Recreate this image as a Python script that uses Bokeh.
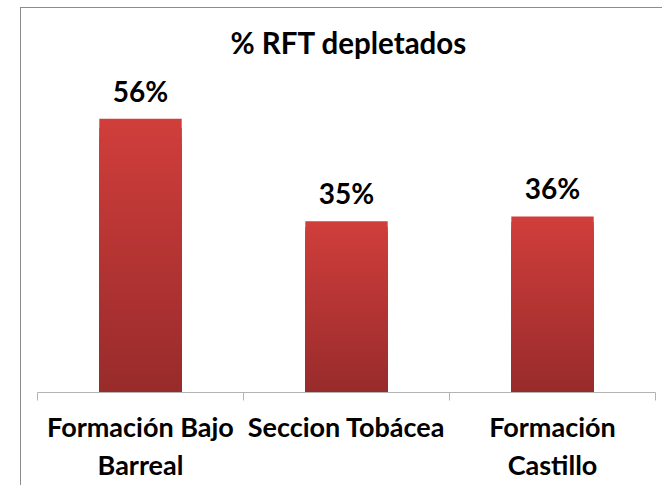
from bokeh.plotting import figure
from bokeh.models import Range1d, FixedTicker
from bokeh.core.properties import value
from bokeh.embed import file_html
from bokeh.resources import INLINE

# ---- data ----
categories = ["Formación Bajo\nBarreal", "Seccion Tobácea", "Formación\nCastillo"]
values = [56, 35, 36]
title_text = "% RFT depletados"

x = list(range(len(categories)))
value_labels = [f"{v}%" for v in values]
boundaries = [i - 0.5 for i in x] + [x[-1] + 0.5]

FONT = "Lato"

p = figure(width=642, height=478, output_backend="svg", toolbar_location=None,
           x_range=Range1d(-0.5777, 2.5388), y_range=Range1d(0, 66.26),
           y_axis_location=None,
           min_border_left=0, min_border_right=0,
           min_border_top=60, min_border_bottom=94,
           title=title_text)

# chart-area border: left and top edges
p.styles = {"margin-left": "20px", "margin-top": "7px",
            "border-left": "1px solid #8c8c8c",
            "border-top": "1px solid #8c8c8c"}

p.background_fill_color = "white"
p.border_fill_color = "white"
p.outline_line_color = None
p.grid.visible = False

p.title.align = "left"
p.title.offset = 209
p.title.text_font = FONT
p.title.text_font_size = "29.5px"
p.title.text_font_style = "bold"
p.title.text_color = "black"
p.title.standoff = 18

# bars with vertical gradient (light top -> dark bottom)
top_rgb = (208, 62, 59)
bot_rgb = (152, 43, 43)
N = 30
for k in range(N, 0, -1):
    t = (k - 0.5) / N
    rgb = tuple(int(round(b + (a - b) * t)) for a, b in zip(top_rgb, bot_rgb))
    col = "#%02x%02x%02x" % rgb
    p.vbar(x=x, top=[v * k / N for v in values], bottom=0, width=0.4,
           fill_color=col, line_color=None)

p.text(x=x, y=values, text=value_labels, text_font=value(FONT),
       text_font_size="28px", text_font_style="bold", text_color="black",
       text_align="center", text_baseline="alphabetic", y_offset=-28)

xa = p.xaxis[0]
xa.ticker = FixedTicker(ticks=x, minor_ticks=boundaries)
xa.major_label_overrides = {i: c for i, c in zip(x, categories)}
xa.bounds = (boundaries[0], boundaries[-1])
xa.axis_line_color = "#b3b3b3"
xa.major_tick_line_color = None
xa.major_tick_out = 0
xa.major_tick_in = 0
xa.minor_tick_line_color = "#b3b3b3"
xa.minor_tick_out = 8
xa.minor_tick_in = 0
xa.major_label_text_font = FONT
xa.major_label_text_font_size = "27px"
xa.major_label_text_font_style = "bold"
xa.major_label_text_color = "black"
xa.major_label_text_line_height = 1.18
xa.major_label_standoff = 9

open("out.html", "w").write(file_html(p, INLINE))
